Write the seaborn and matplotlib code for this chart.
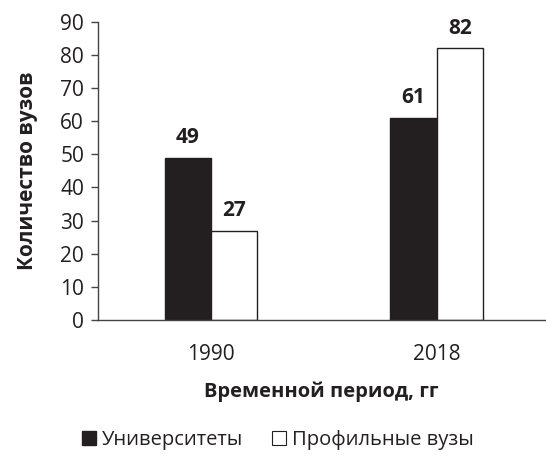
import matplotlib
matplotlib.use('Agg')
import matplotlib.pyplot as plt
from matplotlib.lines import Line2D
import seaborn as sns
import pandas as pd

years = ['1990', '2018']
universities = [49, 61]
profile_vuz = [27, 82]
series = ['Университеты', 'Профильные вузы']

df = pd.DataFrame({
    'year': years * 2,
    'count': universities + profile_vuz,
    'type': [series[0]] * 2 + [series[1]] * 2,
})

sns.set_style('white')
plt.rcParams['font.family'] = ['Open Sans', 'DejaVu Sans']
dark = '#231f20'

fig = plt.figure(figsize=(5.46, 4.67), dpi=100)
ax = fig.add_axes([0.1795, 0.315, 0.8185, 0.638])

sns.barplot(data=df, x='year', y='count', hue='type', hue_order=series,
            palette=[dark, 'white'], edgecolor=dark, linewidth=1,
            width=0.41, saturation=1, ax=ax, legend=False)

for cont in ax.containers:
    ax.bar_label(cont, padding=7, fontsize=15, fontweight='bold', color=dark)

ax.set_ylim(0, 90)
ax.set_xlim(-0.5, 1.48)
ax.set_yticks(range(0, 91, 10))
ax.tick_params(axis='y', length=5, width=1, color='#444', labelsize=15, labelcolor=dark, pad=5, left=True)
ax.tick_params(axis='x', length=0, labelsize=15, labelcolor=dark, pad=17)
sns.despine(ax=ax, top=True, right=True)
for s in ['left', 'bottom']:
    ax.spines[s].set_color('#444')
    ax.spines[s].set_linewidth(1)

ax.set_xlabel('Временной период, гг', fontsize=14.5, fontweight='bold', color=dark, labelpad=12)
ax.set_ylabel('Количество вузов', fontsize=15, fontweight='bold', color=dark, labelpad=16)

handles = [
    Line2D([], [], marker='s', linestyle='', markersize=10.5, markerfacecolor=dark, markeredgecolor=dark),
    Line2D([], [], marker='s', linestyle='', markersize=10.5, markerfacecolor='white', markeredgecolor=dark, markeredgewidth=0.8),
]
fig.legend(handles, series, loc='center', bbox_to_anchor=(0.508, 0.058), ncol=2, frameon=False,
           fontsize=14.5, handlelength=0.8, handletextpad=0.25, columnspacing=1.4, labelcolor=dark)

fig.savefig('out.png', dpi=100)
